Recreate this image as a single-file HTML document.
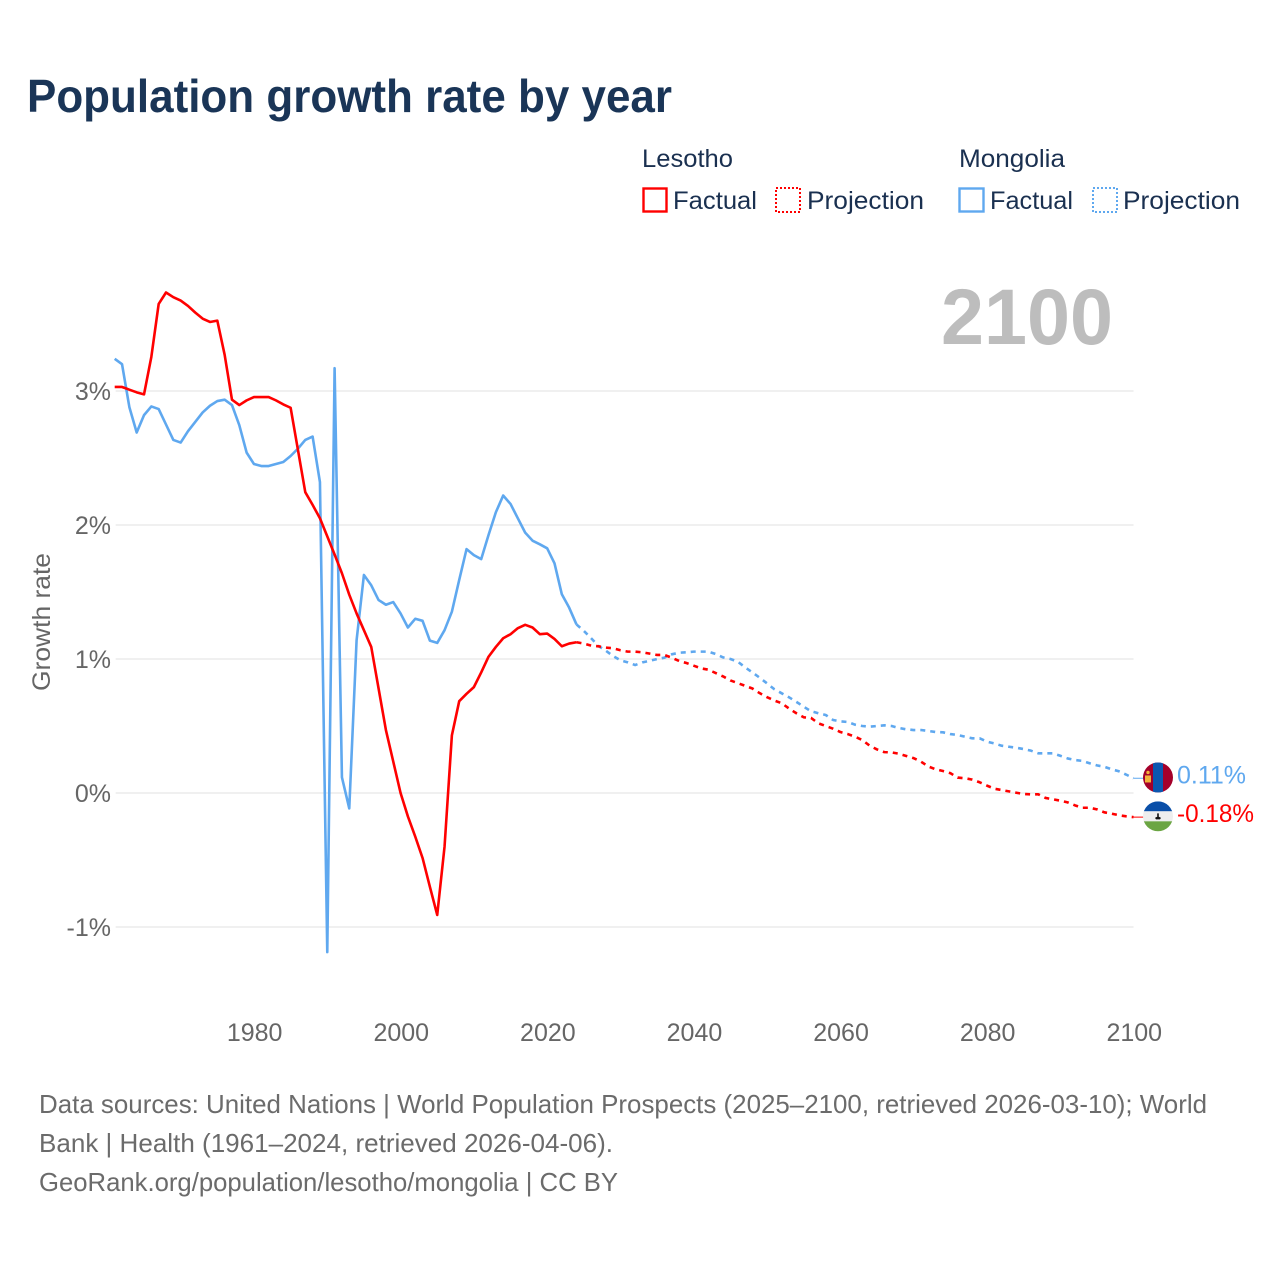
<!DOCTYPE html>
<html lang="en">
<head>
<meta charset="utf-8">
<title>Population growth rate by year</title>
<style>
html,body{margin:0;padding:0;background:#fff;}
svg{display:block;font-family:"Liberation Sans",Arial,sans-serif;}
.legend-text{font-size:25px;fill:#1a3050;}
.tick{font-size:25px;fill:#666;}
.foot{font-size:26px;fill:#6b6b6b;}
</style>
</head>
<body>
<svg id="chart" width="1280" height="1280" viewBox="0 0 1280 1280" xmlns="http://www.w3.org/2000/svg">
  <rect x="0" y="0" width="1280" height="1280" fill="#fff"/>
  <text x="27" y="112" font-size="46" font-weight="700" fill="#1a3557" textLength="645" lengthAdjust="spacingAndGlyphs">Population growth rate by year</text>

  <g>
    <text class="legend-text" x="642" y="167" textLength="91" lengthAdjust="spacingAndGlyphs">Lesotho</text>
    <rect x="643.5" y="188.5" width="23" height="23" fill="none" stroke="#ff0000" stroke-width="2.4"/>
    <text class="legend-text" x="673" y="209" textLength="84" lengthAdjust="spacingAndGlyphs">Factual</text>
    <rect x="776" y="188" width="24" height="24" fill="none" stroke="#ff0000" stroke-width="2" stroke-dasharray="2,2" shape-rendering="crispEdges"/>
    <text class="legend-text" x="807" y="209" textLength="117" lengthAdjust="spacingAndGlyphs">Projection</text>

    <text class="legend-text" x="959" y="167" textLength="106" lengthAdjust="spacingAndGlyphs">Mongolia</text>
    <rect x="959.5" y="188.5" width="24" height="23" fill="none" stroke="#5fa8ef" stroke-width="2.4"/>
    <text class="legend-text" x="990" y="209" textLength="83" lengthAdjust="spacingAndGlyphs">Factual</text>
    <rect x="1093" y="188" width="24" height="24" fill="none" stroke="#5fa8ef" stroke-width="2" stroke-dasharray="2,2" shape-rendering="crispEdges"/>
    <text class="legend-text" x="1123" y="209" textLength="117" lengthAdjust="spacingAndGlyphs">Projection</text>
  </g>

  <text x="941" y="344" font-size="79" font-weight="700" fill="#bdbdbd" textLength="172" lengthAdjust="spacingAndGlyphs">2100</text>

  <text transform="translate(50,622) rotate(-90)" text-anchor="middle" font-size="25" fill="#666" textLength="138" lengthAdjust="spacingAndGlyphs">Growth rate</text>

  <g id="grid"></g>
  <g id="yticks"></g>
  <g id="xticks"></g>
  <g id="series"></g>

  <defs>
    <clipPath id="clip-mn"><circle cx="0" cy="0" r="15"/></clipPath>
    <clipPath id="clip-ls"><circle cx="0" cy="0" r="15"/></clipPath>
  </defs>

  <g id="flag-mongolia">
    <g clip-path="url(#clip-mn)">
      <rect x="-15" y="-15" width="30" height="30" fill="#a4002a"/>
      <rect x="-5" y="-15" width="10" height="30" fill="#0b57b0"/>
      <rect x="-13" y="-2" width="6" height="7" fill="#f2b23a"/>
      <circle cx="-10" cy="-5" r="1.7" fill="#f2b23a"/>
    </g>
  </g>
  <g id="flag-lesotho">
    <g clip-path="url(#clip-ls)">
      <rect x="-15" y="-15" width="30" height="10" fill="#0a4fa8"/>
      <rect x="-15" y="-5" width="30" height="10" fill="#eeeeee"/>
      <rect x="-15" y="5" width="30" height="10" fill="#6ba543"/>
      <path d="M-3 1.5 Q0 -1 3 1.5 L2 3 L-2 3 Z M-0.8 -3 L0.8 -3 L0.8 1 L-0.8 1 Z" fill="#111"/>
    </g>
  </g>
  <text id="label-mongolia" x="1177" y="783" font-size="25" fill="#5fa8ef"></text>
  <text id="label-lesotho" x="1177" y="822" font-size="25" fill="#ff0000" textLength="77" lengthAdjust="spacingAndGlyphs"></text>

  <g>
    <text class="foot" x="39" y="1113" textLength="1168" lengthAdjust="spacingAndGlyphs">Data sources: United Nations | World Population Prospects (2025–2100, retrieved 2026-03-10); World</text>
    <text class="foot" x="39" y="1152" textLength="574" lengthAdjust="spacingAndGlyphs">Bank | Health (1961–2024, retrieved 2026-04-06).</text>
    <text class="foot" x="39" y="1191" textLength="579" lengthAdjust="spacingAndGlyphs">GeoRank.org/population/lesotho/mongolia | CC BY</text>
  </g>
</svg>
<script>
const yTickValues = [-1, 0, 1, 2, 3];
const xTickYears = [1980, 2000, 2020, 2040, 2060, 2080, 2100];
const firstFactualYear = 1961;
const firstProjectionYear = 2024;

const lesothoFactual = [3.03,3.03,3.01,2.99,2.975,3.255,3.65,3.735,3.70,3.675,3.635,3.585,3.54,3.515,3.525,3.27,2.935,2.895,2.93,2.955,2.955,2.955,2.93,2.90,2.875,2.56,2.245,2.15,2.05,1.915,1.78,1.64,1.48,1.34,1.215,1.09,0.78,0.47,0.235,0.0,-0.175,-0.325,-0.485,-0.70,-0.91,-0.40,0.43,0.685,0.74,0.79,0.90,1.017,1.09,1.155,1.185,1.23,1.255,1.235,1.185,1.19,1.15,1.095,1.115,1.125];

const lesothoProjection = [1.125,1.115,1.10,1.095,1.085,1.08,1.065,1.055,1.055,1.05,1.04,1.03,1.03,1.01,0.985,0.97,0.95,0.93,0.92,0.895,0.87,0.84,0.82,0.80,0.78,0.745,0.715,0.69,0.67,0.63,0.595,0.565,0.56,0.52,0.50,0.48,0.455,0.44,0.42,0.395,0.353,0.325,0.305,0.303,0.293,0.276,0.26,0.234,0.198,0.177,0.164,0.148,0.115,0.11,0.10,0.08,0.055,0.032,0.022,0.012,0.002,-0.007,-0.01,-0.01,-0.037,-0.047,-0.057,-0.07,-0.092,-0.11,-0.11,-0.122,-0.144,-0.154,-0.166,-0.174,-0.18];

const mongoliaFactual = [3.24,3.20,2.88,2.69,2.82,2.885,2.865,2.75,2.635,2.615,2.70,2.77,2.84,2.89,2.925,2.935,2.895,2.745,2.54,2.455,2.44,2.44,2.455,2.47,2.515,2.57,2.635,2.66,2.32,-1.187,3.17,0.117,-0.115,1.14,1.627,1.55,1.44,1.405,1.425,1.34,1.235,1.30,1.285,1.137,1.12,1.215,1.353,1.59,1.82,1.775,1.745,1.925,2.095,2.22,2.157,2.05,1.943,1.883,1.856,1.826,1.714,1.483,1.383,1.258];

const mongoliaProjection = [1.258,1.21,1.155,1.097,1.062,1.022,0.99,0.975,0.955,0.975,0.987,1.0,1.01,1.035,1.047,1.05,1.055,1.055,1.055,1.037,1.012,1.0,0.98,0.938,0.90,0.86,0.818,0.774,0.744,0.714,0.68,0.644,0.61,0.595,0.582,0.545,0.535,0.53,0.51,0.50,0.495,0.50,0.505,0.50,0.485,0.475,0.47,0.47,0.463,0.455,0.453,0.44,0.433,0.42,0.408,0.408,0.383,0.37,0.353,0.345,0.338,0.328,0.316,0.296,0.296,0.296,0.278,0.258,0.246,0.24,0.222,0.206,0.196,0.177,0.162,0.137,0.11];

const NS = 'http://www.w3.org/2000/svg';
function xScale(year) { return 114.7 + (year - 1961) * 7.33; }
function yScale(val) { return 793 - val * 134; }

function pathFrom(values, startYear) {
  return values.map(function (v, i) {
    return (i ? 'L' : 'M') + xScale(startYear + i).toFixed(2) + ' ' + yScale(v).toFixed(2);
  }).join(' ');
}
function fmt(v) { return v.toFixed(2) + '%'; }

const gridG = document.getElementById('grid');
const yTickG = document.getElementById('yticks');
yTickValues.forEach(function (v) {
  const line = document.createElementNS(NS, 'line');
  
  
  line.setAttribute('x1', xScale(1961) + 1);
  line.setAttribute('x2', xScale(2100));
  line.setAttribute('y1', yScale(v));
  line.setAttribute('y2', yScale(v));
  line.setAttribute('stroke', '#eeeeee');
  line.setAttribute('stroke-width', '1.8');
  gridG.appendChild(line);
  const t = document.createElementNS(NS, 'text');
  
  
  t.setAttribute('class', 'tick');
  t.setAttribute('x', '111');
  t.setAttribute('y', yScale(v) + 9);
  t.setAttribute('text-anchor', 'end');
  t.textContent = v + '%';
  yTickG.appendChild(t);
});

const xTickG = document.getElementById('xticks');
xTickYears.forEach(function (yr) {
  const t = document.createElementNS(NS, 'text');
  
  
  t.setAttribute('class', 'tick');
  t.setAttribute('x', xScale(yr) + 0.7);
  t.setAttribute('y', '1041');
  t.setAttribute('text-anchor', 'middle');
  t.textContent = yr;
  xTickG.appendChild(t);
});

const seriesG = document.getElementById('series');
function addLine(values, startYear, color, dashed, name) {
  const p = document.createElementNS(NS, 'path');
  
  
  p.setAttribute('d', pathFrom(values, startYear));
  p.setAttribute('fill', 'none');
  p.setAttribute('stroke', color);
  p.setAttribute('stroke-width', '2.6');
  p.setAttribute('stroke-linejoin', 'round');
  if (dashed) p.setAttribute('stroke-dasharray', '5,5');
  seriesG.appendChild(p);
}
addLine(mongoliaFactual, firstFactualYear, '#5fa8ef', false, 'line-mongolia-factual');
addLine(lesothoFactual, firstFactualYear, '#ff0000', false, 'line-lesotho-factual');
addLine(mongoliaProjection, firstProjectionYear, '#5fa8ef', true, 'line-mongolia-projection');
addLine(lesothoProjection, firstProjectionYear, '#ff0000', true, 'line-lesotho-projection');

function addEnd(values, flagId, labelId, color, name) {
  const last = values[values.length - 1];
  const y = yScale(last);
  const c = document.createElementNS(NS, 'line');
  
  
  c.setAttribute('x1', xScale(2100));
  c.setAttribute('x2', xScale(2100) + 10);
  c.setAttribute('y1', y);
  c.setAttribute('y2', y);
  c.setAttribute('stroke', color);
  c.setAttribute('stroke-width', '1');
  seriesG.appendChild(c);
  document.getElementById(flagId).setAttribute('transform', 'translate(1158,' + (y - 0.8) + ')');
  const lab = document.getElementById(labelId);
  lab.setAttribute('y', y + 5);
  lab.textContent = fmt(last);
}
addEnd(mongoliaProjection, 'flag-mongolia', 'label-mongolia', '#5fa8ef', 'connector-mongolia');
addEnd(lesothoProjection, 'flag-lesotho', 'label-lesotho', '#ff0000', 'connector-lesotho');
</script>
</body>
</html>
